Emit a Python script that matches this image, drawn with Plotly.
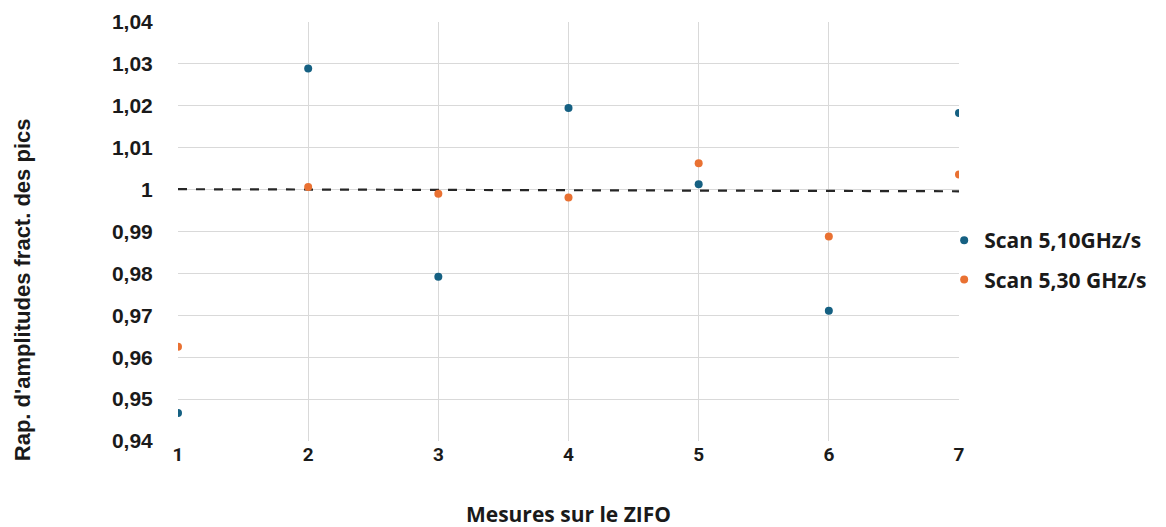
import plotly.graph_objects as go

mesures = [1, 2, 3, 4, 5, 6, 7]
scan_510 = [0.9467, 1.0289, 0.9792, 1.0195, 1.0013, 0.9711, 1.0183]
scan_530 = [0.9625, 1.0006, 0.9990, 0.9981, 1.0063, 0.9888, 1.0036]
ref_x = [1, 7]
ref_y = [1.0001, 0.9996]

y_ticks = [0.94, 0.95, 0.96, 0.97, 0.98, 0.99, 1.00, 1.01, 1.02, 1.03, 1.04]
y_ticktext = ["0,94", "0,95", "0,96", "0,97", "0,98", "0,99", "1", "1,01", "1,02", "1,03", "1,04"]
x_ticks = [1, 2, 3, 4, 5, 6, 7]
y_title = "Rap. d'amplitudes fract. des pics"
x_title = "Mesures sur le ZIFO"

BLUE = "#156082"
ORANGE = "#E97132"
TXT = "#1a1a1a"

fig = go.Figure()
fig.add_trace(go.Scatter(x=ref_x, y=ref_y, mode="lines",
                         line=dict(color="#262626", width=2.2, dash="dash"),
                         showlegend=False, hoverinfo="skip"))
fig.add_trace(go.Scatter(x=mesures, y=scan_510, mode="markers", name="Scan 5,10GHz/s",
                         legendgroup="a", marker=dict(color=BLUE, size=8)))
fig.add_trace(go.Scatter(x=mesures, y=scan_530, mode="markers", name="Scan 5,30 GHz/s",
                         legendgroup="b", marker=dict(color=ORANGE, size=8)))

fig.update_layout(
    width=1166, height=527,
    margin=dict(l=170, r=215, t=14, b=94, autoexpand=False),
    paper_bgcolor="white", plot_bgcolor="white",
    font=dict(family="Liberation Sans, Arial", color=TXT),
    legend=dict(x=0.981, y=0.432, xanchor="left", yanchor="middle",
                bgcolor="rgba(0,0,0,0)",
                font=dict(family="Open Sans", size=21, color=TXT, weight="bold"),
                itemwidth=30, tracegroupgap=9),
    showlegend=True,
    annotations=[dict(text=y_title, textangle=-90, xref="paper", yref="paper",
                      x=-0.1997, y=0.36, xanchor="center", yanchor="middle", showarrow=False,
                      font=dict(family="Liberation Sans", size=22, color=TXT, weight="bold"))],
)
fig.update_xaxes(range=[1, 7], tickvals=x_ticks, showgrid=True, gridcolor="#d9d9d9", gridwidth=1,
                 zeroline=False, showline=False, ticks="",
                 tickfont=dict(family="Roboto", size=19, color=TXT, weight="bold"),
                 title=dict(text=x_title, standoff=42,
                            font=dict(family="Open Sans", size=21, color=TXT, weight="bold")))
fig.update_yaxes(range=[0.94, 1.04], tickvals=y_ticks, ticktext=y_ticktext, showgrid=True,
                 gridcolor="#d9d9d9", gridwidth=1, zeroline=False, showline=False,
                 ticks="outside", ticklen=20, tickcolor="rgba(0,0,0,0)",
                 tickfont=dict(family="Liberation Sans", size=21, color=TXT, weight="bold"))

fig.write_html("out.html")
